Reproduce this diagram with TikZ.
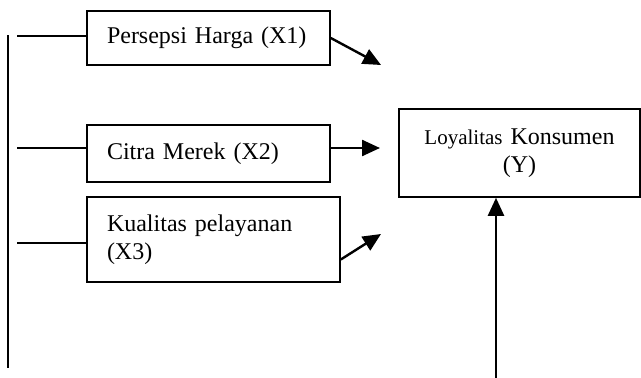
\documentclass[tikz,border=0pt]{standalone}
\usepackage{fontspec}
\setmainfont{Liberation Serif}
\usepackage{tikz}
\usetikzlibrary{positioning,arrows.meta}

\begin{document}
\begin{tikzpicture}[x=1pt, y=-1pt,
    varbox/.style={draw, line width=1.6pt, inner xsep=20pt, inner ysep=0pt, align=left, font=\fontsize{24}{28}\selectfont},
    link/.style={line width=1.8pt},
    arr/.style={line width=2.4pt, -{Triangle[length=18pt,width=16pt]}}]
        \useasboundingbox (0,0) rectangle (641,378);
        \node[varbox, text width=203pt, minimum height=54pt] (x1) at (208.5,38) {Persepsi Harga (X1)};
        \node[varbox, text width=203pt, minimum height=57pt] (x2) [below of=x1, node distance=115.5pt] {Citra Merek (X2)};
        \node[varbox, text width=213pt, minimum height=85pt] (x3) [below of=x2, node distance=86pt, xshift=5pt] {Kualitas pelayanan\\(X3)};
        \node[varbox, text width=201pt, minimum height=88pt, align=center] (y) at (519.5,153) {{\fontsize{21}{28}\selectfont Loyalitas} Konsumen\\(Y)};
        \coordinate (top) at (8,35);
        \coordinate (bot) at (8,368);
        \coordinate (h1) at (17,36);
        \coordinate (h2) at (17,148);
        \coordinate (h3) at (17,243);
        \coordinate (t1) at (381,65);
        \coordinate (t2) at (380,148);
        \coordinate (t3) at (381,234);
        \coordinate (yb) at (496,378);
        \draw[link] (top) -- (bot);
        \foreach \i in {1,2,3}
          \draw[link] (h\i) -- (h\i -| x\i.west);
        \path
          (x1.east) edge [arr] (t1)
          (x2.east |- t2) edge [arr] (t2)
          ([yshift=-20pt]x3.east) edge [arr] (t3)
          (yb) edge [arr] (yb |- y.south);
  \end{tikzpicture}
\end{document}
